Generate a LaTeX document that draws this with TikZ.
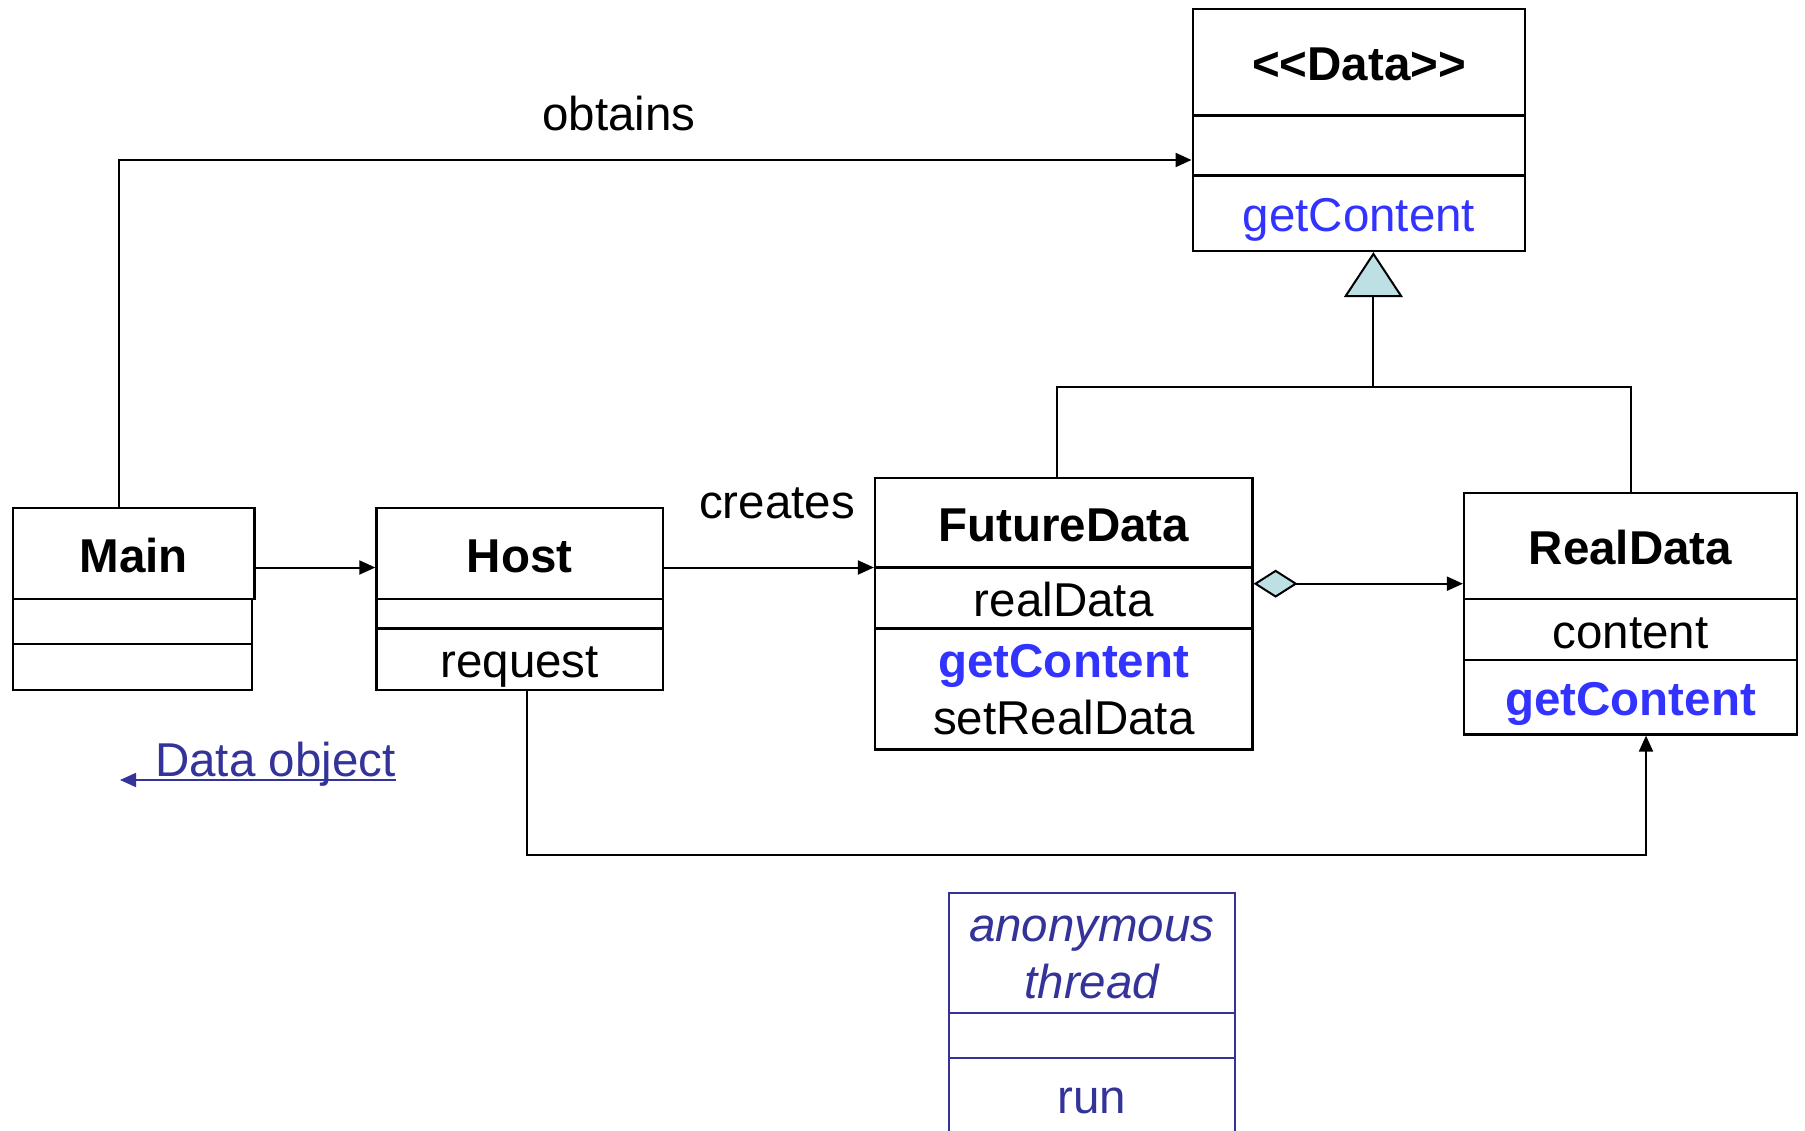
\documentclass[tikz,border=0pt]{standalone}
\usepackage{fontspec}
\newfontfamily\arial{Liberation Sans}
\usetikzlibrary{arrows.meta}
\definecolor{methodblue}{HTML}{3333FF}
\definecolor{noteblue}{HTML}{333399}
\definecolor{tipfill}{HTML}{BCE0E3}
\begin{document}
\begin{tikzpicture}[x=1pt,y=-1pt,
  every node/.style={font=\arial\fontsize{47.5}{57}\selectfont},
  compart/.style={draw, line width=2.2pt, inner sep=0pt},
  oneline/.style={text height=37pt, text depth=0pt},
  multiline/.style={align=center},
  threadbox/.style={compart, draw=noteblue, text=noteblue, line width=2pt},
  conn/.style={line width=2pt, draw=black},
  arr/.style={-{Triangle[length=16pt,width=14pt]}},
  lbl/.style={oneline, inner sep=0pt}
]
\fill[white] (0,0) rectangle (1805,1131);
\useasboundingbox (0,0) rectangle (1805,1131);

% interface Data
\node[compart, oneline, minimum width=332.7pt, minimum height=106.5pt] (dataT) at (1359,62.25) {\bfseries <<Data>>};
\node[compart, minimum width=332.7pt, minimum height=60pt] (dataA) at (1359,145.5) {};
\node[compart, oneline, text=methodblue, minimum width=332.7pt, minimum height=75.5pt] (dataM) at (1359,213.25) {getContent};

% Main
\node[compart, oneline, minimum width=241.7pt, minimum height=91pt] (mainT) at (133.55,553.5) {\bfseries Main};
\node[compart, minimum width=239.3pt, minimum height=45pt] (mainA) at (132.35,621.5) {};
\node[compart, minimum width=239.3pt, minimum height=46pt] (mainM) at (132.35,667) {};

% Host
\node[compart, oneline, minimum width=286.6pt, minimum height=91pt] (hostT) at (519.7,553.5) {\bfseries Host};
\node[compart, minimum width=286.6pt, minimum height=29.5pt] (hostA) at (519.7,613.75) {};
\node[compart, oneline, minimum width=286.6pt, minimum height=61.5pt] (hostM) at (519.7,659.25) {request};

% FutureData
\node[compart, oneline, minimum width=377.5pt, minimum height=89.5pt] (fdT) at (1063.75,522.75) {\bfseries FutureData};
\node[compart, oneline, minimum width=377.5pt, minimum height=61pt] (fdA) at (1063.75,598) {realData};
\node[compart, multiline, minimum width=377.5pt, minimum height=121pt] (fdM) at (1063.75,689)
  {\rule{0pt}{34.6pt}\textcolor{methodblue}{\bfseries getContent}\\setRealData};

% RealData
\node[compart, oneline, minimum width=333pt, minimum height=106pt] (rdT) at (1630.5,546) {\bfseries RealData};
\node[compart, oneline, minimum width=333pt, minimum height=61pt] (rdA) at (1630.5,629.5) {content};
\node[compart, oneline, text=methodblue, minimum width=333pt, minimum height=74.5pt] (rdM) at (1630.5,697.25) {\bfseries getContent};

% anonymous thread
\node[threadbox, multiline, font=\arial\itshape\fontsize{47.5}{57}\selectfont,
      minimum width=286.4pt, minimum height=120pt] (thT) at (1091.8,953) {\rule{0pt}{34pt}anonymous\\thread};
\node[threadbox, minimum width=286.4pt, minimum height=45pt] (thA) at (1091.8,1035.5) {};
\node[threadbox, text height=30pt, text depth=0pt, minimum width=286.4pt, minimum height=80pt] (thM) at (1091.8,1098) {run};

% routing points
\coordinate (obtC) at (118.6,160);
\coordinate (callY) at (0,567.5);
\coordinate (aggY) at (0,583.7);
\coordinate (busL) at (1057,387);
\coordinate (busM) at (1373.4,387);
\coordinate (busR) at (1631,387);
\coordinate (reqL) at (527,855);
\coordinate (reqR) at (1646,855);
\coordinate (dobjTip) at (120,780);

% Main obtains Data
\draw[conn, arr] (mainT.north -| obtC) |- (dataA.west |- obtC);
\node[lbl] (obtL) at (619,112.5) {obtains};

% Main -> Host -> FutureData
\draw[conn, arr] (mainT.east |- callY) -- (hostT.west |- callY);
\draw[conn, arr] (hostT.east |- callY) -- (fdT.west |- callY);
\node[lbl] (crL) at (777,500) {creates};

% generalization to Data
\draw[conn] (fdT.north -| busL) |- (busR) -- (rdT.north -| busR);
\draw[conn, -{Triangle[length=45pt,width=58.8pt,fill=tipfill]}] (busM) -- (dataM.south -| busM);

% FutureData holds RealData
\draw[conn, {Diamond[length=44pt,width=28pt,fill=tipfill]}-{Triangle[length=16pt,width=14pt]}]
  (fdA.east |- aggY) -- (rdT.west |- aggY);

% request creates RealData
\draw[conn, arr] (hostM.south -| reqL) -- (reqL) -- (reqR) -- (rdM.south -| reqR);

% returned Data object
\node[text=noteblue, anchor=base west, inner sep=0pt] (dobj) at (155,776) {Data object};
\draw[line width=1.8pt, draw=noteblue, -{Triangle[length=16pt,width=14pt]}] (dobj.east |- dobjTip) -- (dobjTip);
\end{tikzpicture}
\end{document}
